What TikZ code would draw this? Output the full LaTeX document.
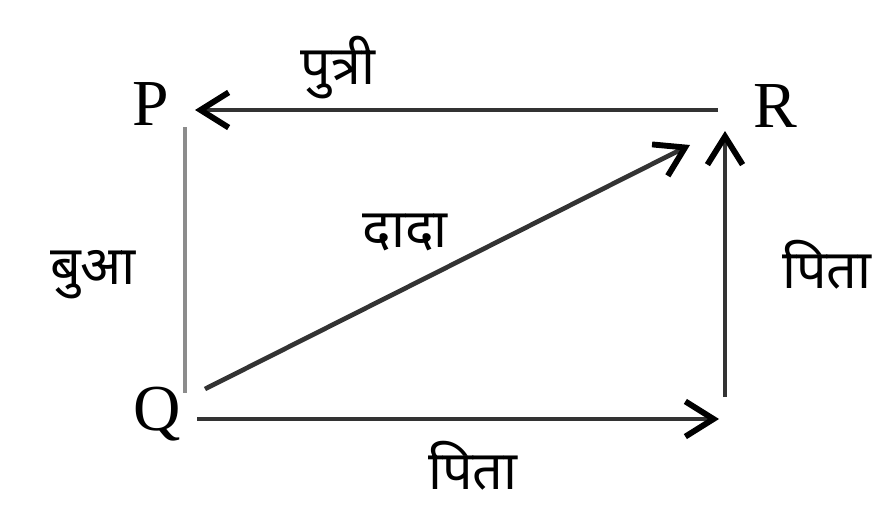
\documentclass[tikz,border=0pt]{standalone}
\usepackage{fontspec}
\setmainfont{Liberation Serif}
\newfontfamily\dev[Script=Devanagari]{Noto Sans}
\usetikzlibrary{arrows.meta}
\begin{document}
\begin{tikzpicture}[x=0.03cm,y=-0.03cm,
  lbl/.style={inner sep=0pt,font=\fontsize{56}{60}\selectfont},
  dlbl/.style={inner sep=0pt,font=\dev\fontsize{46}{50}\selectfont},
  conn/.style={line width=4pt,draw=black!80,-{Straight Barb[length=24pt,width=30pt,line width=5pt,color=black]}},
  plain/.style={line width=3.5pt,draw=black!45}]
\useasboundingbox (0,0) rectangle (883,505);
% letters
\node[lbl] (P) at (151,104) {P};
\node[lbl] (R) at (775,106) {R};
\node[lbl] (Q) at (157,414) {Q};
% connector ends
\coordinate (Ra) at (718,110);
\coordinate (Pa) at (195,110);
\coordinate (Pl) at (185,127);
\coordinate (Ql) at (185,393);
\coordinate (Qd) at (205,389);
\coordinate (Rd) at (690,145);
\coordinate (Qb) at (197,419);
\coordinate (Sb) at (719,419);
\coordinate (Sr) at (725,397);
\coordinate (Rr) at (725,131);
% connectors
\draw[conn] (Ra) -- (Pa);
\draw[plain] (Pl) -- (Ql);
\draw[conn] (Qd) -- (Rd);
\draw[conn] (Qb) -- (Sb);
\draw[conn] (Sr) -- (Rr);
% labels
\node[dlbl] (l1) at (338,68) {पुत्री};
\node[dlbl] (l2) at (93,275) {बुआ};
\node[dlbl] (l3) at (405,232) {दादा};
\node[dlbl] (l4) at (827,265) {पिता};
\node[dlbl] (l5) at (473,466) {पिता};
\end{tikzpicture}
\end{document}
